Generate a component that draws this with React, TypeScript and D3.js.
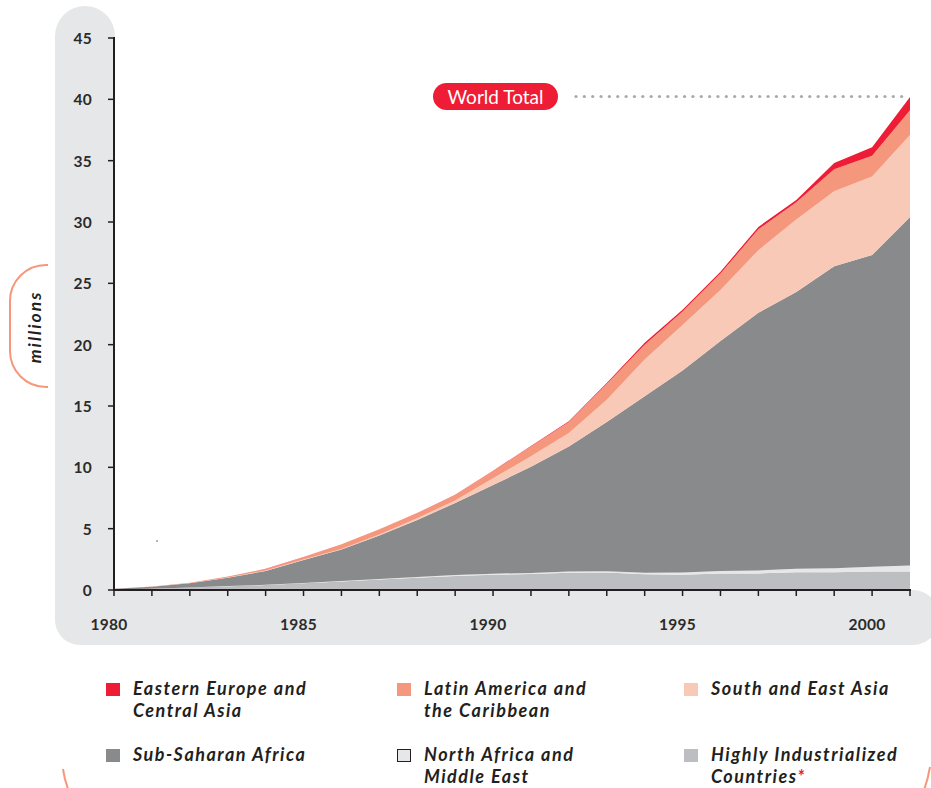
import React from "react";
import * as d3 from "d3";

const years = [1980, 1981, 1982, 1983, 1984, 1985, 1986, 1987, 1988, 1989, 1990, 1991, 1992, 1993, 1994, 1995, 1996, 1997, 1998, 1999, 2000, 2001];
const highlyIndustrialized = [0.05, 0.1, 0.2, 0.3, 0.4, 0.55, 0.7, 0.85, 1.0, 1.15, 1.25, 1.3, 1.4, 1.42, 1.28, 1.25, 1.35, 1.35, 1.45, 1.45, 1.5, 1.5];
const northAfrica = [0, 0.01, 0.01, 0.02, 0.02, 0.03, 0.04, 0.05, 0.06, 0.07, 0.08, 0.09, 0.1, 0.11, 0.13, 0.17, 0.2, 0.24, 0.28, 0.33, 0.4, 0.5];
const subSaharan = [0.05, 0.16, 0.34, 0.68, 1.13, 1.87, 2.56, 3.55, 4.64, 5.88, 7.22, 8.66, 10.2, 12.17, 14.39, 16.48, 18.75, 21.01, 22.57, 24.62, 25.4, 28.4];
const southEastAsia = [0, 0, 0.01, 0.02, 0.03, 0.03, 0.05, 0.07, 0.15, 0.2, 0.55, 0.85, 1.1, 1.8, 3.0, 3.7, 4.15, 5.1, 5.9, 6.1, 6.4, 6.7];
const latinAmerica = [0, 0.01, 0.04, 0.08, 0.14, 0.2, 0.37, 0.43, 0.4, 0.45, 0.6, 0.8, 0.9, 1.3, 1.2, 1.1, 1.35, 1.7, 1.4, 1.8, 1.7, 2.0];
const easternEurope = [0, 0, 0, 0, 0.01, 0.01, 0.01, 0.01, 0.02, 0.02, 0.03, 0.04, 0.05, 0.08, 0.15, 0.15, 0.15, 0.2, 0.2, 0.5, 0.7, 1.1];

const yTicks = [0, 5, 10, 15, 20, 25, 30, 35, 40, 45];
const xLabelYears = [1980, 1985, 1990, 1995, 2000];

const seriesKeys = ["hic", "na", "ssa", "sea", "la", "ee"];
const seriesColors: Record<string, string> = {
  hic: "#BDBEC1",
  na: "#E6E7E8",
  ssa: "#898A8C",
  sea: "#F9C9B7",
  la: "#F5977D",
  ee: "#EE1C34",
};

const legendItems = [
  { key: "ee", lines: ["Eastern Europe and", "Central Asia"], col: 0, row: 0 },
  { key: "la", lines: ["Latin America and", "the Caribbean"], col: 1, row: 0 },
  { key: "sea", lines: ["South and East Asia"], col: 2, row: 0 },
  { key: "ssa", lines: ["Sub-Saharan Africa"], col: 0, row: 1 },
  { key: "na", lines: ["North Africa and", "Middle East"], col: 1, row: 1 },
  { key: "hic", lines: ["Highly Industrialized", "Countries"], col: 2, row: 1 },
];

export default function App() {
  const W = 931, H = 788;
  const x = d3.scaleLinear().domain([1980, 2001]).range([114, 910]);
  const y = d3.scaleLinear().domain([0, 45]).range([590, 38]);

  const table = years.map((yr, i) => ({
    year: yr,
    hic: highlyIndustrialized[i],
    na: northAfrica[i],
    ssa: subSaharan[i],
    sea: southEastAsia[i],
    la: latinAmerica[i],
    ee: easternEurope[i],
  }));
  const stack = d3.stack<any>().keys(seriesKeys)(table);
  const area = d3
    .area<any>()
    .x((d) => x(d.data.year))
    .y0((d) => y(d[0]))
    .y1((d) => y(d[1]))
    .curve(d3.curveLinear);

  const dots: number[] = [];
  for (let px = 576; px <= 910; px += 8.35) dots.push(px);

  const font = "Lato, 'Open Sans', sans-serif";
  const colX = [106, 397, 684];
  const rowY = [683, 749];

  const panelPath = [
    "M55,36",
    "A30,30 0 0 1 115,36",
    "L115,590",
    "L913,590",
    "A27.5,27.5 0 0 1 940,617.5",
    "A27.5,27.5 0 0 1 913,645",
    "L80,645",
    "A25,25 0 0 1 55,620",
    "Z",
  ].join(" ");

  return (
    <svg
      width={W}
      height={H}
      style={{ position: "absolute", left: 0, top: 0, background: "#fff" }}
    >
      <path d={panelPath} fill="#E6E7E8" />
      <rect x={115} y={0} width={795} height={590} fill="#fff" />

      {stack.map((s) => (
        <path key={s.key} d={area(s) || ""} fill={seriesColors[s.key]} />
      ))}

      <line x1={114} x2={114} y1={37} y2={591} stroke="#231F20" strokeWidth={2} />
      <line x1={113} x2={911} y1={590} y2={590} stroke="#231F20" strokeWidth={2.2} />
      {yTicks.map((t) => (
        <g key={t}>
          <line x1={108} x2={114} y1={y(t)} y2={y(t)} stroke="#231F20" strokeWidth={1.5} />
          <text
            x={92}
            y={y(t) + 6}
            textAnchor="end"
            fontFamily={font}
            fontWeight={700}
            fontSize={15.5}
            letterSpacing={0.3}
            fill="#2B2B2B"
          >
            {t}
          </text>
        </g>
      ))}
      {years.map((yr) => (
        <line key={yr} x1={x(yr)} x2={x(yr)} y1={590} y2={596} stroke="#231F20" strokeWidth={1.5} />
      ))}
      {xLabelYears.map((yr) => (
        <text
          key={yr}
          x={x(yr) - 5}
          y={630}
          textAnchor="middle"
          fontFamily={font}
          fontWeight={700}
          fontSize={15.5}
          letterSpacing={0.3}
          fill="#2B2B2B"
        >
          {yr}
        </text>
      ))}

      <circle cx={157} cy={541} r={0.8} fill="#555" />

      <rect x={433} y={83} width={125} height={27} rx={13.5} fill="#EE1C34" />
      <text
        x={495.5}
        y={103.5}
        textAnchor="middle"
        fontFamily={font}
        fontSize={19}
        fontWeight={400}
        fill="#fff"
      >
        World Total
      </text>
      {dots.map((px, i) => (
        <circle key={i} cx={px} cy={96.5} r={1.6} fill="#A7A9AC" />
      ))}

      <path
        d="M48,265 L46,265 A36,36 0 0 0 10,301 L10,351 A36,36 0 0 0 46,387 L48,387"
        fill="none"
        stroke="#F7977A"
        strokeWidth={2}
      />
      <text
        transform={`translate(41,327) rotate(-90)`}
        textAnchor="middle"
        fontFamily={font}
        fontWeight={700}
        fontStyle="italic"
        fontSize={17.5}
        letterSpacing={2}
        fill="#231F20"
      >
        millions
      </text>

      {legendItems.map((it) => {
        const sx = colX[it.col];
        const sy = rowY[it.row];
        return (
          <g key={it.key}>
            <rect
              x={it.key === "na" ? sx + 0.5 : sx}
              y={it.key === "na" ? sy + 0.5 : sy}
              width={it.key === "na" ? 13 : 14}
              height={it.key === "na" ? 12 : 13}
              fill={seriesColors[it.key]}
              stroke={it.key === "na" ? "#231F20" : "none"}
              strokeWidth={1}
            />
            {it.lines.map((ln, j) => (
              <text
                key={j}
                x={sx + 27}
                y={sy + 11.5 + j * 22.5}
                fontFamily={font}
                fontWeight={700}
                fontStyle="italic"
                fontSize={18}
                letterSpacing={1.5}
                fill="#231F20"
              >
                {ln}
                {it.key === "hic" && j === 1 ? (
                  <tspan fill="#EE1C34">*</tspan>
                ) : null}
              </text>
            ))}
          </g>
        );
      })}

      <path d="M63,769 Q64.5,780 68.5,790" fill="none" stroke="#F7977A" strokeWidth={2} />
      <path d="M930,767 Q928,779 924,790" fill="none" stroke="#F7977A" strokeWidth={2} />
    </svg>
  );
}
